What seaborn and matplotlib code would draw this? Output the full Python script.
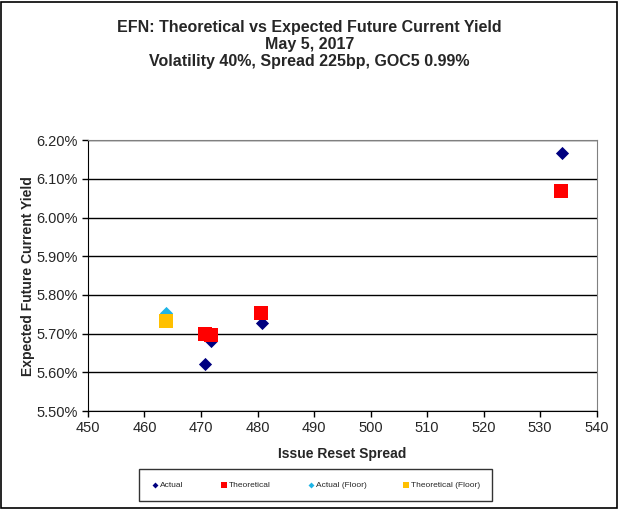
import numpy as np
import pandas as pd
import matplotlib
matplotlib.use("Agg")
import matplotlib.pyplot as plt
import seaborn as sns
from matplotlib.ticker import FuncFormatter
from matplotlib.patches import Rectangle

# data
actual_x = [533.8, 471.8, 470.8, 480.8]
actual_y = [6.168, 5.680, 5.621, 5.728]
theo_x = [533.6, 470.8, 471.8, 480.6]
theo_y = [6.068, 5.698, 5.696, 5.754]
actual_floor_x = [463.9]
actual_floor_y = [5.754]
theo_floor_x = [463.9]
theo_floor_y = [5.732]

rows = []
for xs, ys, name in [(actual_x, actual_y, "Actual"), (theo_x, theo_y, "Theoretical"),
                     (actual_floor_x, actual_floor_y, "Actual (Floor)"),
                     (theo_floor_x, theo_floor_y, "Theoretical (Floor)")]:
    for a, b in zip(xs, ys):
        rows.append({"spread": a, "yield": b, "series": name})
df = pd.DataFrame(rows)

sns.set_style("white")
plt.rcParams['font.family'] = ['Liberation Sans', 'DejaVu Sans']

fig = plt.figure(figsize=(6.19, 5.09), dpi=100)
ax = fig.add_axes([0.142, 0.1925, 0.822, 0.532])

palette = {"Actual": "#000080", "Theoretical": "#FF0000",
           "Actual (Floor)": "#1EB4E6", "Theoretical (Floor)": "#FFC000"}
markers = {"Actual": "D", "Theoretical": "s",
           "Actual (Floor)": "D", "Theoretical (Floor)": "s"}
sizes = {"Actual": 45, "Theoretical": 110, "Actual (Floor)": 45, "Theoretical (Floor)": 110}

for name in ["Actual", "Theoretical", "Actual (Floor)", "Theoretical (Floor)"]:
    sub = df[df.series == name]
    sns.scatterplot(data=sub, x="spread", y="yield", ax=ax, color=palette[name],
                    marker=markers[name], s=sizes[name], linewidth=0, label=name, zorder=3)

ax.set_xlim(450, 540)
ax.set_ylim(5.5, 6.2)
ax.set_xticks(np.arange(450, 541, 10))
ax.set_yticks(np.arange(5.5, 6.21, 0.1))
ax.yaxis.set_major_formatter(FuncFormatter(lambda v, p: f"{v:.2f}%"))
ax.grid(axis="y", color="black", linewidth=1)
ax.set_axisbelow(True)
for s in ["top", "right"]:
    ax.spines[s].set_color("#808080")
for s in ["left", "bottom"]:
    ax.spines[s].set_color("black")
ax.tick_params(axis="both", direction="out", length=4, width=1, color="black",
               labelsize=10.5, bottom=True, left=True)

ax.set_xlabel("Issue Reset Spread", fontsize=10, fontweight="bold", labelpad=8)
ax.set_ylabel("Expected Future Current Yield", fontsize=10, fontweight="bold", labelpad=1)

fig.text(0.5, 0.96, "EFN: Theoretical vs Expected Future Current Yield\nMay 5, 2017\nVolatility 40%, Spread 225bp, GOC5 0.99%",
         ha="center", va="top", fontsize=11.5, fontweight="bold", linespacing=1.15)

leg = ax.legend(loc="center", bbox_to_anchor=(0.51, 0.047), bbox_transform=fig.transFigure,
                ncol=4, fontsize=6, frameon=True, fancybox=False, edgecolor="black",
                markerscale=0.45, handletextpad=0.1, columnspacing=4.3, borderpad=1.4,
                handlelength=1.0)
leg.get_frame().set_linewidth(1)

fig.patches.append(Rectangle((0.002, 0.002), 0.995, 0.995, transform=fig.transFigure,
                             fill=False, edgecolor="black", linewidth=1.2))

fig.savefig("out.png", dpi=100)
